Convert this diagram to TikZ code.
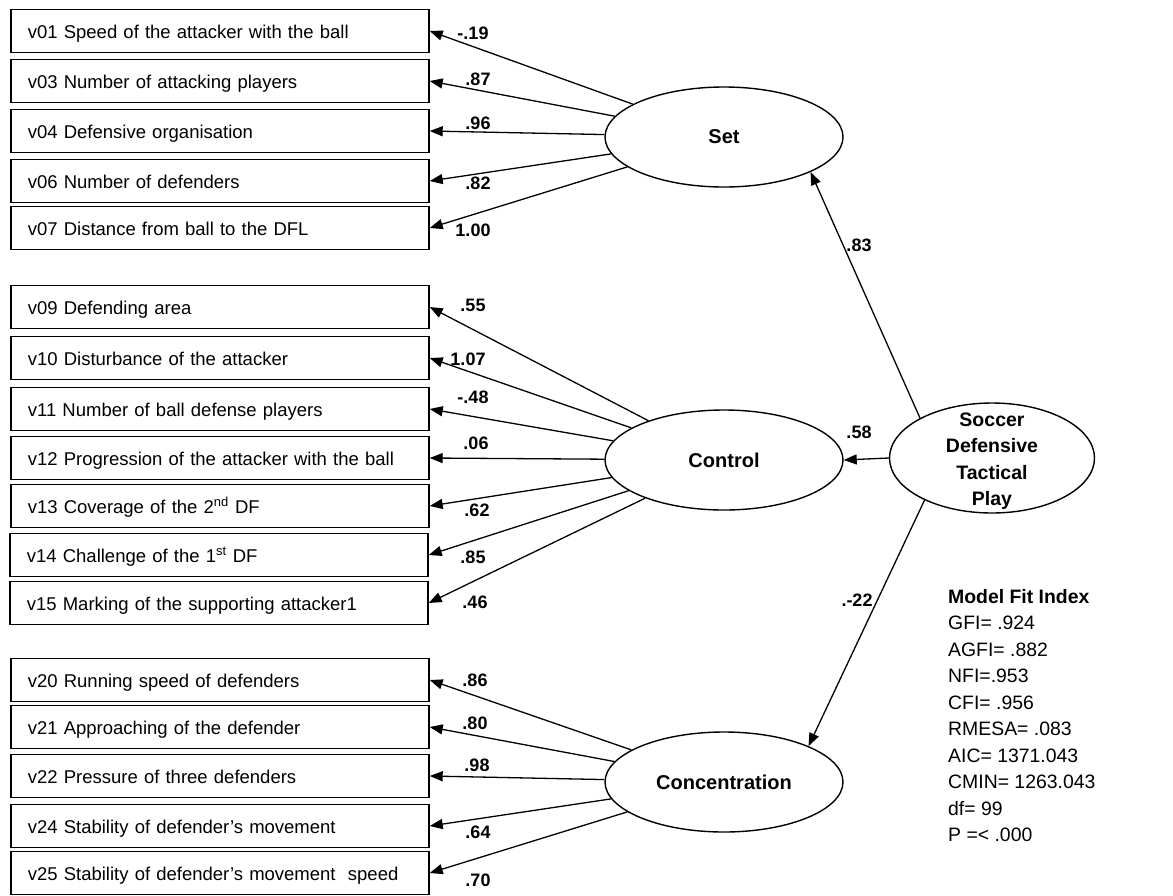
\documentclass[tikz,border=0pt]{standalone}
\usepackage{fontspec}
\setmainfont{Liberation Sans}
\usetikzlibrary{shapes.geometric,arrows.meta}
\begin{document}
\begin{tikzpicture}[x=1pt,y=-1pt,
 obs/.style={draw, line width=1.7pt, rectangle, anchor=west, minimum height=43pt, text width=384pt, text height=14pt, text depth=0pt, inner xsep=17pt, inner ysep=0pt, align=left, font=\fontsize{18.5}{22}\selectfont},
 lat/.style={draw, line width=1.4pt, ellipse, minimum width=238pt, minimum height=100pt, inner sep=0pt, font=\fontsize{20}{24}\bfseries\selectfont},
 ld/.style={-{Triangle[length=13pt,width=10pt]}, line width=1.3pt},
 coef/.style={font=\fontsize{18}{21}\bfseries\selectfont, inner sep=0pt},
 fitx/.style={anchor=north west, inner sep=0pt, align=left, font=\fontsize{19.4}{26.5}\selectfont}]
\useasboundingbox (0,0) rectangle (1173,895);
% observed variables
\node[obs] (v01) at (10,31) {v01 Speed of the attacker with the ball};
\node[obs] (v03) at (10,81) {v03 Number of attacking players};
\node[obs] (v04) at (10,131) {v04 Defensive organisation};
\node[obs] (v06) at (10,181) {v06 Number of defenders};
\node[obs] (v07) at (10,228) {v07 Distance from ball to the DFL};
\node[obs] (v09) at (10,307) {v09 Defending area};
\node[obs] (v10) at (10,358) {v10 Disturbance of the attacker};
\node[obs] (v11) at (10,409) {v11 Number of ball defense players};
\node[obs] (v12) at (10,458) {v12 Progression of the attacker with the ball};
\node[obs] (v13) at (10,506) {v13 Coverage of the 2\textsuperscript{nd} DF};
\node[obs] (v14) at (9,555) {v14 Challenge of the 1\textsuperscript{st} DF};
\node[obs] (v15) at (9,603) {v15 Marking of the supporting attacker1};
\node[obs] (v20) at (10,680) {v20 Running speed of defenders};
\node[obs] (v21) at (10,727) {v21 Approaching of the defender};
\node[obs] (v22) at (10,776) {v22 Pressure of three defenders};
\node[obs] (v24) at (10,826) {v24 Stability of defender’s movement};
\node[obs] (v25) at (10,873) {v25 Stability of defender’s movement\ \ speed};
% latent variables
\node[lat] (set) at (724,137) {Set};
\node[lat] (ctrl) at (724,460) {Control};
\node[lat] (conc) at (724,782) {Concentration};
\node[draw, line width=1.4pt, ellipse, minimum width=205pt, minimum height=110pt, inner sep=0pt] (soc) at (992,458) {};
\node[align=center, inner sep=0pt, font=\fontsize{19.5}{26.5}\bfseries\selectfont] (soctext) at (992,461) {Soccer\\Defensive\\Tactical\\Play};
% loadings
\foreach \v in {v01,v03,v04,v06,v07} \draw[ld] (set) -- (\v.east);
\foreach \v in {v09,v10,v11,v12,v13,v14,v15} \draw[ld] (ctrl) -- (\v.east);
\foreach \v in {v20,v21,v22,v24,v25} \draw[ld] (conc) -- (\v.east);
\draw[ld] (soc.151) -- (set.338);
\draw[ld] (soc.west) -- (ctrl.east);
\draw[ld] (soc.212) -- (conc.23);
% coefficients
\node[coef] (c01) at (473,33) {-.19};
\node[coef] (c03) at (478,79) {.87};
\node[coef] (c04) at (478,123) {.96};
\node[coef] (c06) at (478,183) {.82};
\node[coef] (c07) at (473,230) {1.00};
\node[coef] (c09) at (473,305) {.55};
\node[coef] (c10) at (468,359) {1.07};
\node[coef] (c11) at (473,397) {-.48};
\node[coef] (c12) at (476,443) {.06};
\node[coef] (c13) at (477,510) {.62};
\node[coef] (c14) at (473,557) {.85};
\node[coef] (c15) at (475,602) {.46};
\node[coef] (c20) at (475,680) {.86};
\node[coef] (c21) at (475,723) {.80};
\node[coef] (c22) at (477,765) {.98};
\node[coef] (c24) at (478,832) {.64};
\node[coef] (c25) at (478,880) {.70};
\node[coef] (cset) at (859,245) {.83};
\node[coef] (cctrl) at (859,432) {.58};
\node[coef] (cconc) at (857,600) {.-22};
% fit indices
\node[fitx] (fit) at (948,589) {\textbf{Model Fit Index}\\GFI= .924\\AGFI= .882\\NFI=.953\\CFI= .956\\RMESA= .083\\AIC= 1371.043\\CMIN= 1263.043\\df= 99\\P =< .000};
\end{tikzpicture}
\end{document}
